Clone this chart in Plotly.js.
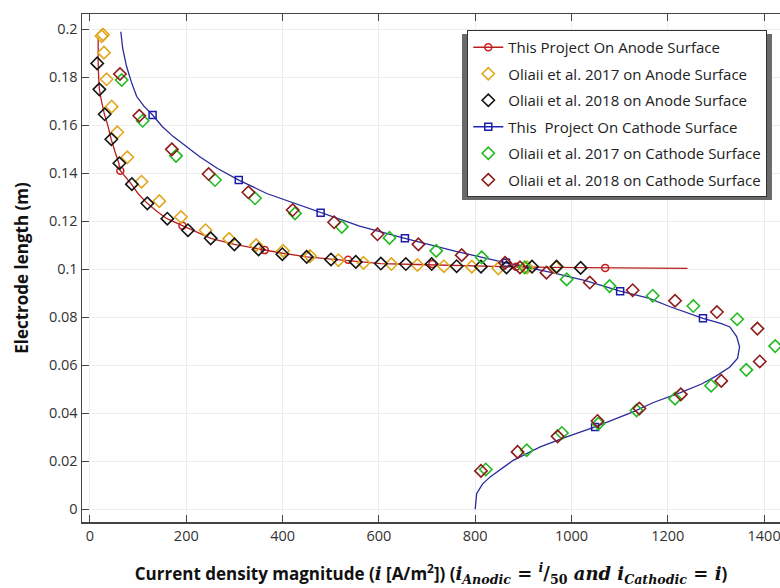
<!DOCTYPE html>
<html>
<head>
<meta charset="utf-8">
<script src="https://cdn.plot.ly/plotly-3.0.1.min.js"></script>
<style>html,body{margin:0;padding:0;background:#fff;}#chart{width:780px;height:588px;}</style>
</head>
<body>
<div id="chart"></div>
<script>
// ---- Data ----
// This Project, anode surface: curve and its markers
const anodeLineX = [17, 16.5, 17, 18, 19.5, 24, 30, 37, 44, 52, 60, 63, 72, 86, 100, 119, 140, 160, 192, 204, 251, 300, 355, 400, 450, 520, 560, 604, 680, 760, 860, 960, 1070, 1241];
const anodeLineY = [0.1965, 0.192, 0.186, 0.180, 0.175, 0.170, 0.1646, 0.160, 0.1542, 0.149, 0.1442, 0.1411, 0.139, 0.1355, 0.1315, 0.1275, 0.124, 0.1211, 0.1182, 0.1171, 0.1129, 0.1104, 0.1083, 0.1067, 0.1052, 0.1040, 0.1031, 0.1024, 0.1020, 0.1015, 0.1011, 0.1008, 0.1006, 0.1004];
const anodeMarkX = [63, 192, 363, 536, 711, 885, 1070];
const anodeMarkY = [0.1411, 0.1182, 0.1080, 0.1040, 0.1022, 0.1011, 0.1006];

// This Project, cathode surface: curve and its markers
const cathLineX = [64, 68, 76, 86, 97, 112, 130, 150, 173, 200, 228, 265, 309, 367, 436, 479, 560, 654, 760, 864, 962, 1031, 1101, 1160, 1205, 1273, 1310, 1329, 1343, 1349, 1345, 1329, 1300, 1270, 1225, 1170, 1128, 1049, 990, 935, 879, 831, 815, 803, 801, 800];
const cathLineY = [0.199, 0.192, 0.1845, 0.178, 0.172, 0.168, 0.1643, 0.1595, 0.1553, 0.151, 0.1469, 0.142, 0.1372, 0.1316, 0.1268, 0.1236, 0.118, 0.1129, 0.1075, 0.1027, 0.0985, 0.0952, 0.0909, 0.088, 0.0844, 0.0796, 0.0775, 0.076, 0.072, 0.0677, 0.063, 0.0593, 0.0555, 0.0522, 0.0485, 0.0445, 0.0406, 0.0343, 0.0302, 0.026, 0.0204, 0.0135, 0.0105, 0.0065, 0.003, 0.0];
const cathMarkX = [130, 309, 479, 654, 864, 1101, 1273, 1049];
const cathMarkY = [0.1643, 0.1372, 0.1236, 0.1129, 0.1027, 0.0909, 0.0796, 0.0343];

// Oliaii et al. 2017, anode surface
const or17AX = [24, 27, 29, 34.6, 45, 56.7, 77.5, 107, 144, 189, 240, 289, 345, 401, 457, 516, 568, 626, 680, 735, 793, 848, 908, 968];
const or17AY = [0.1972, 0.1978, 0.1903, 0.1792, 0.1678, 0.1571, 0.1467, 0.1365, 0.1284, 0.1218, 0.1163, 0.1127, 0.1101, 0.1077, 0.1055, 0.1038, 0.1027, 0.1022, 0.1018, 0.1013, 0.1011, 0.1004, 0.1008, 0.1008];
// Oliaii et al. 2018, anode surface
const or18AX = [15, 19.4, 30.5, 44.3, 61, 87, 119, 160.6, 203.5, 250.6, 299.8, 350, 399.5, 450, 500.5, 552, 604, 656, 709.6, 761.5, 812, 865, 918, 969, 1019];
const or18AY = [0.1858, 0.1750, 0.1646, 0.1542, 0.1442, 0.1355, 0.1275, 0.1211, 0.1163, 0.1129, 0.1104, 0.1083, 0.1063, 0.1052, 0.1041, 0.1031, 0.1024, 0.1022, 0.1022, 0.1013, 0.1011, 0.1008, 0.1011, 0.1011, 0.1006];
// Oliaii et al. 2017, cathode surface
const or17CX = [65.8, 109.4, 178.6, 259.6, 342.7, 425.8, 523, 622, 719, 813.5, 903, 990, 1079, 1168.6, 1253, 1344, 1423, 1363, 1290, 1215, 1135, 1056, 980, 907, 822];
const or17CY = [0.1789, 0.1619, 0.1473, 0.1372, 0.1296, 0.1233, 0.1177, 0.1131, 0.1077, 0.1050, 0.1008, 0.0958, 0.0930, 0.0890, 0.0847, 0.0792, 0.0680, 0.0581, 0.0515, 0.0461, 0.0412, 0.0357, 0.0318, 0.0246, 0.0166];
// Oliaii et al. 2018, cathode surface
const or18CX = [62.3, 102.4, 170, 246.4, 329, 421, 507, 597, 682, 772, 862, 893, 948, 1038, 1127, 1215, 1302, 1386, 1391, 1311, 1227, 1141, 1054, 971, 888, 812];
const or18CY = [0.1814, 0.1640, 0.1500, 0.1397, 0.1321, 0.1247, 0.1196, 0.1146, 0.1104, 0.1059, 0.1027, 0.1008, 0.0986, 0.0945, 0.0913, 0.0869, 0.0822, 0.0753, 0.0616, 0.0535, 0.0479, 0.0420, 0.0368, 0.0304, 0.0239, 0.0160];

const seriesNames = [
  'This Project On Anode Surface',
  'Oliaii et al. 2017 on Anode Surface',
  'Oliaii et al. 2018 on Anode Surface',
  'This \u00A0Project On Cathode Surface',
  'Oliaii et al. 2017 on Cathode Surface',
  'Oliaii et al. 2018 on Cathode Surface'
];
const xTickVals = [0, 200, 400, 600, 800, 1000, 1200, 1400];
const xTickText = ['0', '200', '400', '600', '800', '1000', '1200', '1400'];
const yTickVals = [0, 0.02, 0.04, 0.06, 0.08, 0.1, 0.12, 0.14, 0.16, 0.18, 0.2];
const yTickText = ['0', '0.02', '0.04', '0.06', '0.08', '0.1', '0.12', '0.14', '0.16', '0.18', '0.2'];

// ---- Styles ----
const cRed = '#b8201f', cRedMk = '#c81e1e', cBlue = '#2a2a9c', cBlueMk = '#1c1ca8';
const cOrange = '#e3a71c', cBlack = '#151515', cGreen = '#22bb22', cDark = '#8e1b1b';

// markers separated by nulls -> legend shows "line + marker", no extra segments drawn
function sep(a) { const out = []; a.forEach(v => { out.push(v); out.push(null); }); return out; }

const traces = [
  {x: anodeLineX, y: anodeLineY, mode: 'lines', line: {color: cRed, width: 1.3}, showlegend: false, legendgroup: 'g1', hoverinfo: 'skip'},
  {x: cathLineX, y: cathLineY, mode: 'lines', line: {color: cBlue, width: 1.3}, showlegend: false, legendgroup: 'g4', hoverinfo: 'skip'},
  {x: sep(anodeMarkX), y: sep(anodeMarkY), mode: 'lines+markers', connectgaps: false, name: seriesNames[0], legendgroup: 'g1', legendrank: 1,
   line: {color: cRed, width: 1.5}, marker: {symbol: 'circle-open', size: 7, color: cRedMk, line: {width: 1.5}}},
  {x: sep(cathMarkX), y: sep(cathMarkY), mode: 'lines+markers', connectgaps: false, name: seriesNames[3], legendgroup: 'g4', legendrank: 4,
   line: {color: '#2222bb', width: 1.5}, marker: {symbol: 'square-open', size: 7, color: cBlueMk, line: {width: 1.5}}},
  {x: or17AX, y: or17AY, mode: 'markers', name: seriesNames[1], legendgroup: 'g2', legendrank: 2,
   marker: {symbol: 'diamond-open', size: 9.5, color: cOrange, line: {width: 1.6}}},
  {x: or18AX, y: or18AY, mode: 'markers', name: seriesNames[2], legendgroup: 'g3', legendrank: 3,
   marker: {symbol: 'diamond-open', size: 9.5, color: cBlack, line: {width: 1.6}}},
  {x: or17CX, y: or17CY, mode: 'markers', name: seriesNames[4], legendgroup: 'g5', legendrank: 5,
   marker: {symbol: 'diamond-open', size: 9.5, color: cGreen, line: {width: 1.6}}},
  {x: or18CX, y: or18CY, mode: 'markers', name: seriesNames[5], legendgroup: 'g6', legendrank: 6,
   marker: {symbol: 'diamond-open', size: 9.5, color: cDark, line: {width: 1.6}}}
];

const mathFont = "font-family:'DejaVu Serif',serif;font-size:18px";
const xTitle = "<b>Current density magnitude (<span style=\"" + mathFont + "\"><i>i</i></span> [A/m<sup>2</sup>]) (" +
  "<span style=\"" + mathFont + "\"><i>i</i><sub><i>Anodic</i></sub> = <sup><i>i</i></sup>/<sub>50</sub> <i>and i</i><sub><i>Cathodic</i></sub> = <i>i</i></span>)</b>";

const layout = {
  width: 780, height: 588,
  margin: {l: 82, r: 0, t: 14, b: 66},
  paper_bgcolor: '#ffffff', plot_bgcolor: '#ffffff',
  font: {family: "'Open Sans', sans-serif", color: '#222'},
  showlegend: true,
  legend: {
    x: 0.552, y: 0.9685, xanchor: 'left', yanchor: 'top',
    bgcolor: '#ffffff', bordercolor: '#333', borderwidth: 1,
    font: {family: "'Open Sans', sans-serif", size: 15, color: '#222'},
    traceorder: 'grouped', tracegroupgap: 4
  },
  xaxis: {
    range: [-16.6, 1433], tickvals: xTickVals, ticktext: xTickText,
    showline: true, linecolor: '#444', linewidth: 1.5, mirror: 'ticks',
    ticks: 'inside', ticklen: 7, tickcolor: '#444', tickwidth: 1,
    ticklabeloverflow: 'allow',
    showgrid: true, gridcolor: '#ececec', gridwidth: 1, zeroline: false,
    tickfont: {family: "'Open Sans', sans-serif", size: 14.5, color: '#333'},
    title: {text: xTitle, font: {family: "'Open Sans', sans-serif", size: 17, color: '#111'}, standoff: 24}
  },
  yaxis: {
    range: [-0.0053, 0.2064], tickvals: yTickVals, ticktext: yTickText,
    showline: true, linecolor: '#444', linewidth: 1.5, mirror: false,
    ticks: 'inside', ticklen: 7, tickcolor: '#444', tickwidth: 1,
    showgrid: true, gridcolor: '#ececec', gridwidth: 1, zeroline: false,
    tickfont: {family: "'Open Sans', sans-serif", size: 14.5, color: '#333'},
    title: {text: '<b>Electrode length (m)</b>', font: {family: "'Open Sans', sans-serif", size: 17, color: '#111'}, standoff: 16}
  },
  shapes: [
    {type: 'rect', xref: 'paper', yref: 'paper', layer: 'above',
     x0: 0.5444, x1: 0.9885, y0: 0.6337, y1: 0.9606,
     fillcolor: '#6a6a6a', line: {width: 0}}
  ]
};

Plotly.newPlot('chart', traces, layout, {displayModeBar: false, staticPlot: true});
</script>
</body>
</html>
